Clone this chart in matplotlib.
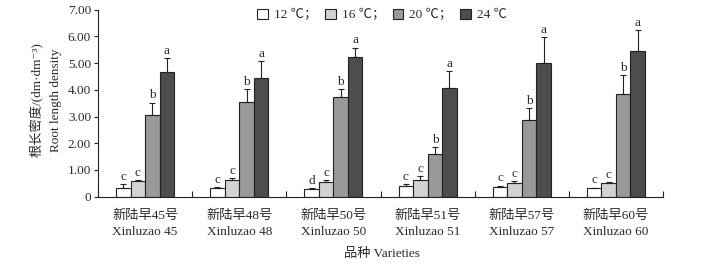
import matplotlib
matplotlib.use("Agg")
import matplotlib.pyplot as plt
from matplotlib.patches import Patch
import numpy as np

plt.rcParams['font.family'] = ['Liberation Serif', 'Noto Sans CJK SC', 'DejaVu Sans']

varieties_cn = ["新陆早45号", "新陆早48号", "新陆早50号", "新陆早51号", "新陆早57号", "新陆早60号"]
varieties_en = ["Xinluzao 45", "Xinluzao 48", "Xinluzao 50", "Xinluzao 51", "Xinluzao 57", "Xinluzao 60"]
temps = ["12 ℃；", "16 ℃；", "20 ℃；", "24 ℃"]

v12 = [0.34, 0.34, 0.29, 0.40, 0.35, 0.33]
v16 = [0.59, 0.62, 0.54, 0.61, 0.50, 0.50]
v20 = [3.05, 3.53, 3.72, 1.59, 2.87, 3.83]
v24 = [4.67, 4.43, 5.22, 4.07, 5.02, 5.44]

e12 = [0.12, 0.02, 0.04, 0.08, 0.06, 0.01]
e16 = [0.04, 0.08, 0.08, 0.17, 0.07, 0.05]
e20 = [0.47, 0.50, 0.31, 0.27, 0.44, 0.71]
e24 = [0.51, 0.64, 0.36, 0.62, 0.96, 0.80]

l12 = ["c", "c", "d", "c", "c", "c"]
l16 = ["c", "c", "c", "c", "c", "c"]
l20 = ["b", "b", "b", "b", "b", "b"]
l24 = ["a", "a", "a", "a", "a", "a"]

colors = ["#ffffff", "#d2d2d2", "#999999", "#4d4d4d"]
fs = 9.5
tc = "#2a2a2a"

fig = plt.figure(figsize=(7.07, 2.66), dpi=100)
ax = fig.add_axes([98/707, 1-196.7/266, (663-98)/707, (196.7-9.67)/266])

series = [(v12, e12, l12), (v16, e16, l16), (v20, e20, l20), (v24, e24, l24)]
x = np.arange(len(varieties_cn)) + 0.5
w = 0.154
for j, (vals, errs, labs) in enumerate(series):
    xs = x + (j - 1.5) * w
    ax.bar(xs, vals, width=w, color=colors[j], edgecolor="#222222", linewidth=0.8, zorder=2)
    ax.errorbar(xs, vals, yerr=[np.zeros(len(vals)), errs], fmt="none", ecolor="#222222",
                elinewidth=0.8, capsize=2.2, capthick=0.8, zorder=3)
    for xi, v, e, t in zip(xs, vals, errs, labs):
        ax.text(xi, v + e + 0.05, t, ha="center", va="bottom", fontsize=fs, color=tc)

ax.set_xlim(0, 6)
ax.set_ylim(0, 7)
ax.set_yticks([0, 1, 2, 3, 4, 5, 6, 7])
ax.set_yticklabels(["0", "1.00", "2.00", "3.00", "4.00", "5.00", "6.00", "7.00"], fontsize=fs)
ax.tick_params(axis="y", direction="out", length=3, width=0.8, pad=2, colors="#222222",
               labelcolor=tc)

ax.set_xticks(np.arange(0, 7))
ax.set_xticklabels([])
ax.tick_params(axis="x", direction="in", length=4, width=0.8, colors="#222222")
ax.set_xticks(x, minor=True)
ax.set_xticklabels([c + "\n" + e for c, e in zip(varieties_cn, varieties_en)], minor=True,
                   fontsize=fs, linespacing=1.55, color=tc)
ax.tick_params(axis="x", which="minor", length=0, pad=9)

for s in ["top", "right"]:
    ax.spines[s].set_visible(False)
for s in ["left", "bottom"]:
    ax.spines[s].set_linewidth(0.8)
    ax.spines[s].set_color("#222222")

fig.text(37/707, 1-100/266, "根长密度/(dm·dm⁻³)", rotation=90, ha="center", va="center",
         fontsize=fs, color=tc)
fig.text(56/707, 1-100/266, "Root length density", rotation=90, ha="center", va="center",
         fontsize=fs, color=tc)
fig.text(382/707, 1-254/266, "品种 Varieties", ha="center", va="center", fontsize=fs, color=tc)

handles = [Patch(facecolor=c, edgecolor="#222222", linewidth=0.8) for c in colors]
leg = fig.legend(handles, temps, loc="center", bbox_to_anchor=(382/707, 1-15/266), ncol=4,
                 frameon=False, fontsize=fs, handlelength=0.8, handleheight=0.8,
                 handletextpad=0.45, columnspacing=0.6)
for t in leg.get_texts():
    t.set_color(tc)

fig.savefig("out.png", dpi=100)
